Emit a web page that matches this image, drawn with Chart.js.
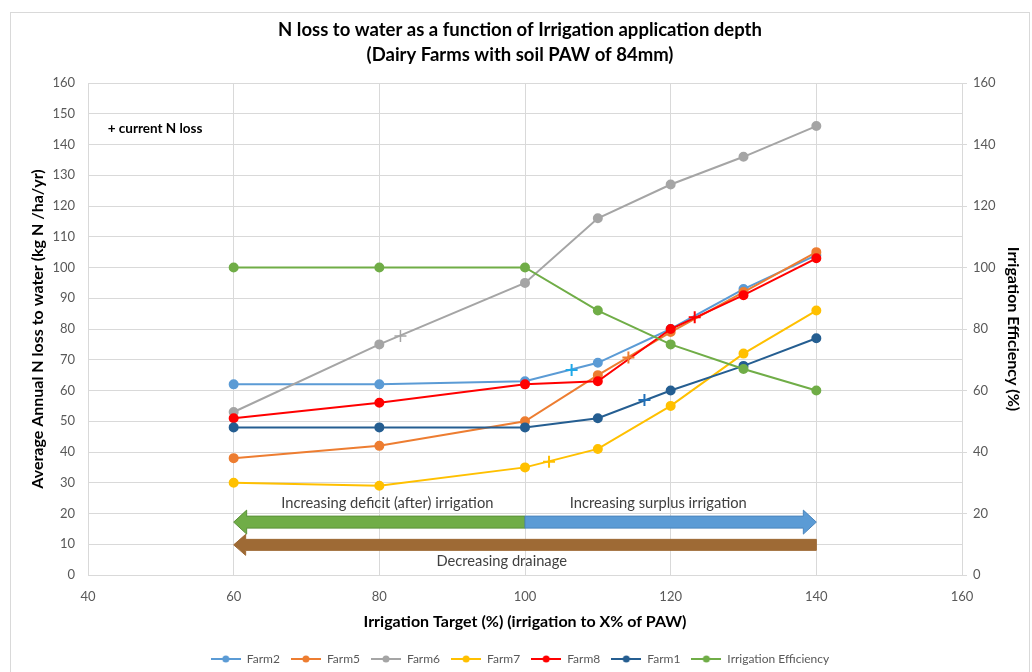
<!DOCTYPE html>
<html>
<head>
<meta charset="utf-8">
<title>N loss to water</title>
<script src="https://cdn.jsdelivr.net/npm/chart.js@4.4.0/dist/chart.umd.min.js"></script>
<style>
  html, body { margin: 0; padding: 0; background: #fff; }
  #wrap { width: 1032px; height: 672px; }
</style>
</head>
<body>
<div id="wrap"><canvas id="chart" width="1032" height="672"></canvas></div>
<script>
// irrigation target (% of PAW)
const targets = [60, 80, 100, 110, 120, 130, 140];

// annual N loss (kg N/ha/yr)
const farm2 = [62, 62, 63, 69, 80, 93, 104];
const farm5 = [38, 42, 50, 65, 79, 92, 105];
const farm6 = [53, 75, 95, 116, 127, 136, 146];
const farm7 = [30, 29, 35, 41, 55, 72, 86];
const farm8 = [51, 56, 62, 63, 80, 91, 103];
const farm1 = [48, 48, 48, 51, 60, 68, 77];
// right axis (%)
const efficiency = [100, 100, 100, 86, 75, 67, 60];

// current N loss (+ marks), farms in the same order as above
const currentX = [106.4, 114.2, 82.9, 103.3, 123.3, 116.4];
const currentY = [66.7, 70.7, 77.7, 36.8, 83.8, 56.9];

const seriesNames = ['Farm2', 'Farm5', 'Farm6', 'Farm7', 'Farm8', 'Farm1', 'Irrigation Efficiency'];
const seriesValues = [farm2, farm5, farm6, farm7, farm8, farm1, efficiency];
const seriesColors = ['#5B9BD5', '#ED7D31', '#A5A5A5', '#FFC000', '#FF0000', '#255E91', '#70AD47'];
const currentColors = ['#1FA8E8', '#ED7D31', '#A5A5A5', '#FFC000', '#FF0000', '#2270B8'];

// arrows under the lines (x from tail to head, at a y level)
const arrowFrom = [100, 100, 140];
const arrowTo = [60, 140, 60];
const arrowLevel = [17.2, 17.2, 9.8];
const arrowFill = ['#70AD47', '#5B9BD5', '#9E6A35'];
const arrowEdge = ['#5A9038', '#4A85BD', '#9E6A35'];

// text notes in data units
const noteText = ['+ current N loss', 'Increasing deficit (after) irrigation', 'Increasing surplus irrigation', 'Decreasing drainage'];
const noteX = [42.7, 81.1, 118.3, 96.8];
const noteY = [145, 23.2, 23.2, 4.4];

const FONT = "Lato, 'Liberation Sans', sans-serif";
Chart.defaults.font.family = FONT;

function legendMark(color) {
  const c = document.createElement('canvas');
  c.width = 30; c.height = 10;
  const g = c.getContext('2d');
  g.strokeStyle = color;
  g.lineWidth = 2;
  g.beginPath(); g.moveTo(0, 5); g.lineTo(30, 5); g.stroke();
  g.fillStyle = color;
  g.beginPath(); g.arc(15, 5, 3.5, 0, Math.PI * 2); g.fill();
  return c;
}
const legendMarks = seriesColors.map(legendMark);

const datasets = seriesNames.map((name, i) => ({
  label: name,
  data: targets.map((t, j) => ({ x: t, y: seriesValues[i][j] })),
  borderColor: seriesColors[i],
  backgroundColor: seriesColors[i],
  borderWidth: 2,
  pointRadius: 4,
  pointHoverRadius: 4,
  yAxisID: i === 6 ? 'y2' : 'y',
  order: 10 - i
}));

currentX.forEach((cx, i) => {
  datasets.push({
    label: '',
    data: [{ x: cx, y: currentY[i] }],
    showLine: false,
    pointStyle: 'cross',
    pointRadius: 6,
    pointHoverRadius: 6,
    borderColor: currentColors[i],
    backgroundColor: currentColors[i],
    pointBorderWidth: i === 2 ? 1.5 : 2,
    yAxisID: 'y',
    order: 0
  });
});

function drawArrow(ctx, x1, x2, y, shaft, head, headLen, fill, edge) {
  const d = x2 > x1 ? 1 : -1;
  const hb = x2 - d * headLen;
  ctx.beginPath();
  ctx.moveTo(x1, y - shaft / 2);
  ctx.lineTo(hb, y - shaft / 2);
  ctx.lineTo(hb, y - head / 2);
  ctx.lineTo(x2, y);
  ctx.lineTo(hb, y + head / 2);
  ctx.lineTo(hb, y + shaft / 2);
  ctx.lineTo(x1, y + shaft / 2);
  ctx.closePath();
  ctx.fillStyle = fill;
  ctx.fill();
  ctx.strokeStyle = edge;
  ctx.lineWidth = 1;
  ctx.stroke();
}

const frame = {
  id: 'frame',
  beforeDraw(chart) {
    const ctx = chart.ctx;
    ctx.save();
    ctx.fillStyle = '#fff';
    ctx.fillRect(0, 0, chart.width, chart.height);
    ctx.strokeStyle = '#D9D9D9';
    ctx.lineWidth = 1;
    ctx.strokeRect(10.5, 12.5, 1019, 680);
    ctx.restore();
  }
};

const notes = {
  id: 'notes',
  beforeDatasetsDraw(chart) {
    const ctx = chart.ctx;
    const xs = chart.scales.x, ys = chart.scales.y;
    ctx.save();
    arrowFrom.forEach((a, i) => {
      const big = i < 2;
      drawArrow(ctx, xs.getPixelForValue(a), xs.getPixelForValue(arrowTo[i]), ys.getPixelForValue(arrowLevel[i]),
        big ? 12 : 11, big ? 24 : 21, big ? 13 : 12, arrowFill[i], arrowEdge[i]);
    });
    ctx.textBaseline = 'middle';
    noteText.forEach((t, i) => {
      if (i === 0) {
        ctx.font = 'bold 13.5px ' + FONT;
        ctx.fillStyle = '#000';
        ctx.textAlign = 'left';
      } else {
        ctx.font = '14.7px ' + FONT;
        ctx.fillStyle = '#404040';
        ctx.textAlign = 'center';
      }
      ctx.fillText(t, xs.getPixelForValue(noteX[i]), ys.getPixelForValue(noteY[i]));
    });
    ctx.restore();
  }
};

new Chart(document.getElementById('chart'), {
  type: 'line',
  data: { datasets },
  plugins: [frame, notes],
  options: {
    responsive: false,
    animation: false,
    layout: { padding: { left: 12, right: 4, top: 0, bottom: -3 } },
    plugins: {
      title: {
        display: true,
        text: ['N loss to water as a function of Irrigation application depth', '(Dairy Farms with soil PAW of 84mm)'],
        color: '#000',
        font: { size: 18.5, weight: 'bold', lineHeight: 25 / 18.5 },
        padding: { top: 17.5, bottom: 15.5 }
      },
      legend: {
        position: 'bottom',
        labels: {
          usePointStyle: true,
          pointStyleWidth: 30,
          color: '#595959',
          font: { size: 12 },
          padding: 11,
          filter: item => item.datasetIndex < 7,
          sort: (a, b) => a.datasetIndex - b.datasetIndex,
          generateLabels: chart => Chart.defaults.plugins.legend.labels.generateLabels(chart).map(l => {
            if (l.datasetIndex < 7) l.pointStyle = legendMarks[l.datasetIndex];
            return l;
          })
        }
      },
      tooltip: { enabled: false }
    },
    scales: {
      x: {
        type: 'linear',
        min: 40,
        max: 160,
        ticks: { stepSize: 20, color: '#595959', font: { size: 13 }, padding: 14 },
        grid: { color: '#D9D9D9', drawTicks: false },
        border: { color: '#D9D9D9' },
        title: {
          display: true,
          text: 'Irrigation Target (%) (irrigation to X% of PAW)',
          color: '#000',
          font: { size: 16, weight: 'bold' },
          padding: { top: 0, bottom: 11 }
        },
        afterFit: s => { s.height = 67; }
      },
      y: {
        position: 'left',
        min: 0,
        max: 160,
        ticks: { stepSize: 10, color: '#595959', font: { size: 13 }, padding: 13 },
        grid: { color: '#D9D9D9', drawTicks: false },
        border: { display: false },
        title: {
          display: true,
          text: 'Average Annual N loss to water (kg N /ha/yr)',
          color: '#000',
          font: { size: 16, weight: 'bold' },
          padding: { top: 16, bottom: 0 }
        },
        afterFit: s => { s.width = 76; }
      },
      y2: {
        position: 'right',
        min: 0,
        max: 160,
        ticks: { stepSize: 20, color: '#595959', font: { size: 13 }, padding: 6 },
        grid: { drawOnChartArea: false, color: '#D9D9D9', tickLength: 5 },
        border: { color: '#D9D9D9' },
        title: {
          display: true,
          text: 'Irrigation Efficiency (%)',
          color: '#000',
          font: { size: 16, weight: 'bold' },
          padding: { top: 5, bottom: 0 }
        },
        afterFit: s => { s.width = 66; }
      }
    }
  }
});
</script>
</body>
</html>
